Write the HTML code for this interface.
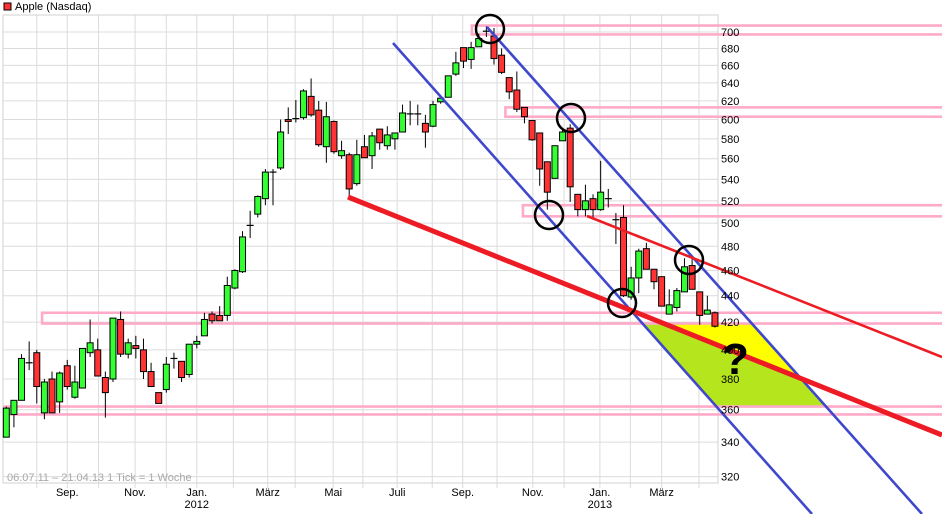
<!DOCTYPE html>
<html><head><meta charset="utf-8"><style>
html,body{margin:0;padding:0;background:#fff;}
svg{display:block;font-family:"Liberation Sans",Arial,sans-serif;}
</style></head><body>
<svg id="chart" width="942" height="514" viewBox="0 0 942 514" xmlns="http://www.w3.org/2000/svg">
<rect x="0" y="0" width="942" height="514" fill="#fff"/>
<g>
<rect x="4" y="3" width="7" height="7" fill="#ff3333" stroke="#000" stroke-width="1"/>
<text x="15" y="10" font-size="11" fill="#000">Apple (Nasdaq)</text>
</g>
<g id="grid"></g>
<g id="fills"></g>
<g id="bands"></g>
<g id="candles"></g>
<g id="lines"></g>
<g id="axes"></g>
<text x="7" y="481" font-size="11" fill="#a8a8a8">06.07.11 – 21.04.13   1 Tick = 1 Woche</text>
<text x="722" y="374" font-size="44" font-weight="bold" fill="#000">?</text>
</svg>
<script>
// Weekly OHLC data (open, high, low, close)
const opens=[343,357,366,391,398,358,380,365,389,368,374,398,400,381,380,422,397,403,400,385,371,373,394,392,383,404,410,426,425,425,446,459,497,508,522,547,551,600,601,602,625,610,572,598,563,564,536,572,563,590,573,580,587,606,606,596,593,619,624,650,681,667,682,701,695,672,646,632,613,599,586,557,541,578,591,526,512,522,512,522,503,505,439,454,478,461,455,426,431,443,464,443,426,427];
const highs=[362,366,397,406,400,380,385,385,393,389,401,422,408,385,423,428,408,410,408,391,371,395,398,392,404,410,427,428,432,455,461,493,511,525,550,550,600,613,621,633,645,620,619,599,578,566,579,584,587,590,593,586,616,620,616,605,620,624,648,676,681,688,698,707,705,680,646,653,613,599,586,557,573,589,595,526,535,526,558,531,509,516,463,478,483,461,455,445,446,470,471,443,440,428];
const lows=[343,349,366,386,364,354,358,358,373,367,374,395,382,355,378,395,394,394,380,375,364,371,387,378,381,401,410,419,421,421,445,458,487,505,516,516,549,585,597,600,603,572,556,565,560,525,534,561,550,569,569,569,587,594,594,571,592,617,624,648,657,656,682,694,661,650,622,608,596,578,534,512,541,578,519,506,506,505,511,514,482,439,437,442,461,445,432,426,428,443,445,418,426,416];
const closes=[361,366,394,391,375,378,358,384,375,378,401,405,382,371,423,397,405,401,385,375,364,390,394,381,404,406,422,421,421,448,460,488,498,524,547,547,587,598,601,631,605,574,603,567,568,531,564,561,583,576,584,586,607,606,606,587,616,623,648,663,665,681,692,701,668,652,630,611,603,579,550,528,573,587,533,512,520,512,528,522,503,440,454,476,461,451,432,433,444,463,445,425,429,417];
// y-axis tick labels (price) and month ticks (week index)
const yTicks=[320,340,360,380,400,420,440,460,480,500,520,540,560,580,600,620,640,660,680,700];
const monthTicks=[4.0,8.0,12.1,16.9,21.0,25.0,29.8,34.3,37.9,42.9,46.8,51.3,55.9,59.9,64.4,69.1,73.2,77.9,81.9,86.0,90.9];
const monthLabels=["","Sep.","","Nov.","","Jan.","","März","","Mai","","Juli","","Sep.","","Nov.","","Jan.","","März",""];
const yearLabels=["","","","","","2012","","","","","","","","","","","","2013","","",""];
// Resistance band price pairs [upper, lower] and start week index
const bandUpper=[708,613,516,427,362];
const bandLower=[697,603,506,419,357];
const bandStart=[61.1,65.5,67.8,4.7,-0.2];

const NS="http://www.w3.org/2000/svg";
const X0=6.3, STEP=7.62, PL=3, PR=718, PT=15, PB=483;
function xs(i){return X0+i*STEP;}
function ys(p){return 32+568*Math.log(700/p);}
function mk(tag,attrs,parent){const e=document.createElementNS(NS,tag);for(const k in attrs)e.setAttribute(k,attrs[k]);parent.appendChild(e);return e;}

const grid=document.getElementById('grid');
yTicks.forEach(t=>{
  const l=mk('line',{x1:PL,x2:PR,y1:ys(t),y2:ys(t),stroke:'#dcdcdc','stroke-width':1},grid);
  
  
});
monthTicks.forEach(m=>{
  const l=mk('line',{x1:xs(m),x2:xs(m),y1:PT,y2:PB,stroke:'#dcdcdc','stroke-width':1},grid);
  
  
});
const frame=mk('rect',{x:PL,y:PT,width:PR-PL,height:PB-PT,fill:'none',stroke:'#d0d0d0','stroke-width':1},grid);



const fills=document.getElementById('fills');
const bl={x1:393,y1:43,x2:812,y2:514}, bu={x1:487,y1:27,x2:922,y2:514}, rt={x1:348,y1:197,x2:942,y2:435};
function xAt(L,y){return L.x1+(y-L.y1)*(L.x2-L.x1)/(L.y2-L.y1);}
const zTop=ys(419), zBot=ys(362);
const q=[[xAt(bl,zTop),zTop],[xAt(bu,zTop),zTop],[xAt(bu,zBot),zBot],[xAt(bl,zBot),zBot]];
const gz=mk('polygon',{points:q.map(p=>p.join(',')).join(' '),fill:'#b5e61d'},fills);


const sR=(rt.y2-rt.y1)/(rt.x2-rt.x1), sU=(bu.y2-bu.y1)/(bu.x2-bu.x1);
const xr=rt.x1+(zTop-rt.y1)/sR;
const xi=(rt.y1-rt.x1*sR-bu.y1+bu.x1*sU)/(sU-sR), yi=rt.y1+(xi-rt.x1)*sR;
const yz=mk('polygon',{points:`${xr},${zTop} ${q[1][0]},${zTop} ${xi},${yi}`,fill:'#ffff00'},fills);



const bands=document.getElementById('bands');
bandUpper.forEach((u,i)=>{
  const x=xs(bandStart[i]);
  const r=mk('rect',{x:x,y:ys(u),width:950-x,height:ys(bandLower[i])-ys(u),fill:'none',stroke:'#ffaac8','stroke-width':2.6},bands);
  
  
});

const cg=document.getElementById('candles');
opens.forEach((o,i)=>{
  const c=closes[i], x=xs(i);
  const g=mk('g',{},cg);
  
  
  mk('line',{x1:x,x2:x,y1:ys(highs[i]),y2:ys(lows[i]),stroke:'#000','stroke-width':1},g);
  const top=ys(Math.max(o,c)), bot=ys(Math.min(o,c));
  if(bot-top<1.5){
    mk('line',{x1:x-3.5,x2:x+3.5,y1:top,y2:top,stroke:'#000','stroke-width':1.2},g);
  } else {
    mk('rect',{x:x-3,y:top,width:6,height:bot-top,fill:c>=o?'#33ff33':'#ff3333',stroke:'#000','stroke-width':1},g);
  }
});

const lg=document.getElementById('lines');
[[bl,'#3f48cc',2.6,'lower-channel-line'],[bu,'#3f48cc',2.6,'upper-channel-line'],[{x1:587,y1:216,x2:942,y2:357},'#ed1c24',2.6,'thin-red-trendline'],[rt,'#ed1c24',5,'thick-red-trendline']].forEach(a=>{
  const l=mk('line',{x1:a[0].x1,y1:a[0].y1,x2:a[0].x2,y2:a[0].y2,stroke:a[1],'stroke-width':a[2]},lg);
  
  
});
[[490,29],[571,118],[549,215],[622,303],[689,260]].forEach(p=>{
  const c=mk('circle',{cx:p[0],cy:p[1],r:14,fill:'none',stroke:'#000','stroke-width':2.5},lg);
  
  
});

const ax=document.getElementById('axes');
yTicks.forEach(t=>{
  const tx=mk('text',{x:721,y:ys(t)+4,'font-size':11,fill:'#000'},ax);
  tx.textContent=t;
  
  
});
monthTicks.forEach((m,i)=>{
  const x=xs(m);
  const tk=mk('line',{x1:x,x2:x,y1:PB,y2:PB+5,stroke:'#dcdcdc','stroke-width':1},ax);
  
  
  if(monthLabels[i]){
    const t=mk('text',{x:x,y:496,'font-size':11,fill:'#000','text-anchor':'middle'},ax);
    t.textContent=monthLabels[i];
    
    
  }
  if(yearLabels[i]){
    const t=mk('text',{x:x,y:508,'font-size':11,fill:'#000','text-anchor':'middle'},ax);
    t.textContent=yearLabels[i];
    
    
  }
});
</script>
</body></html>
